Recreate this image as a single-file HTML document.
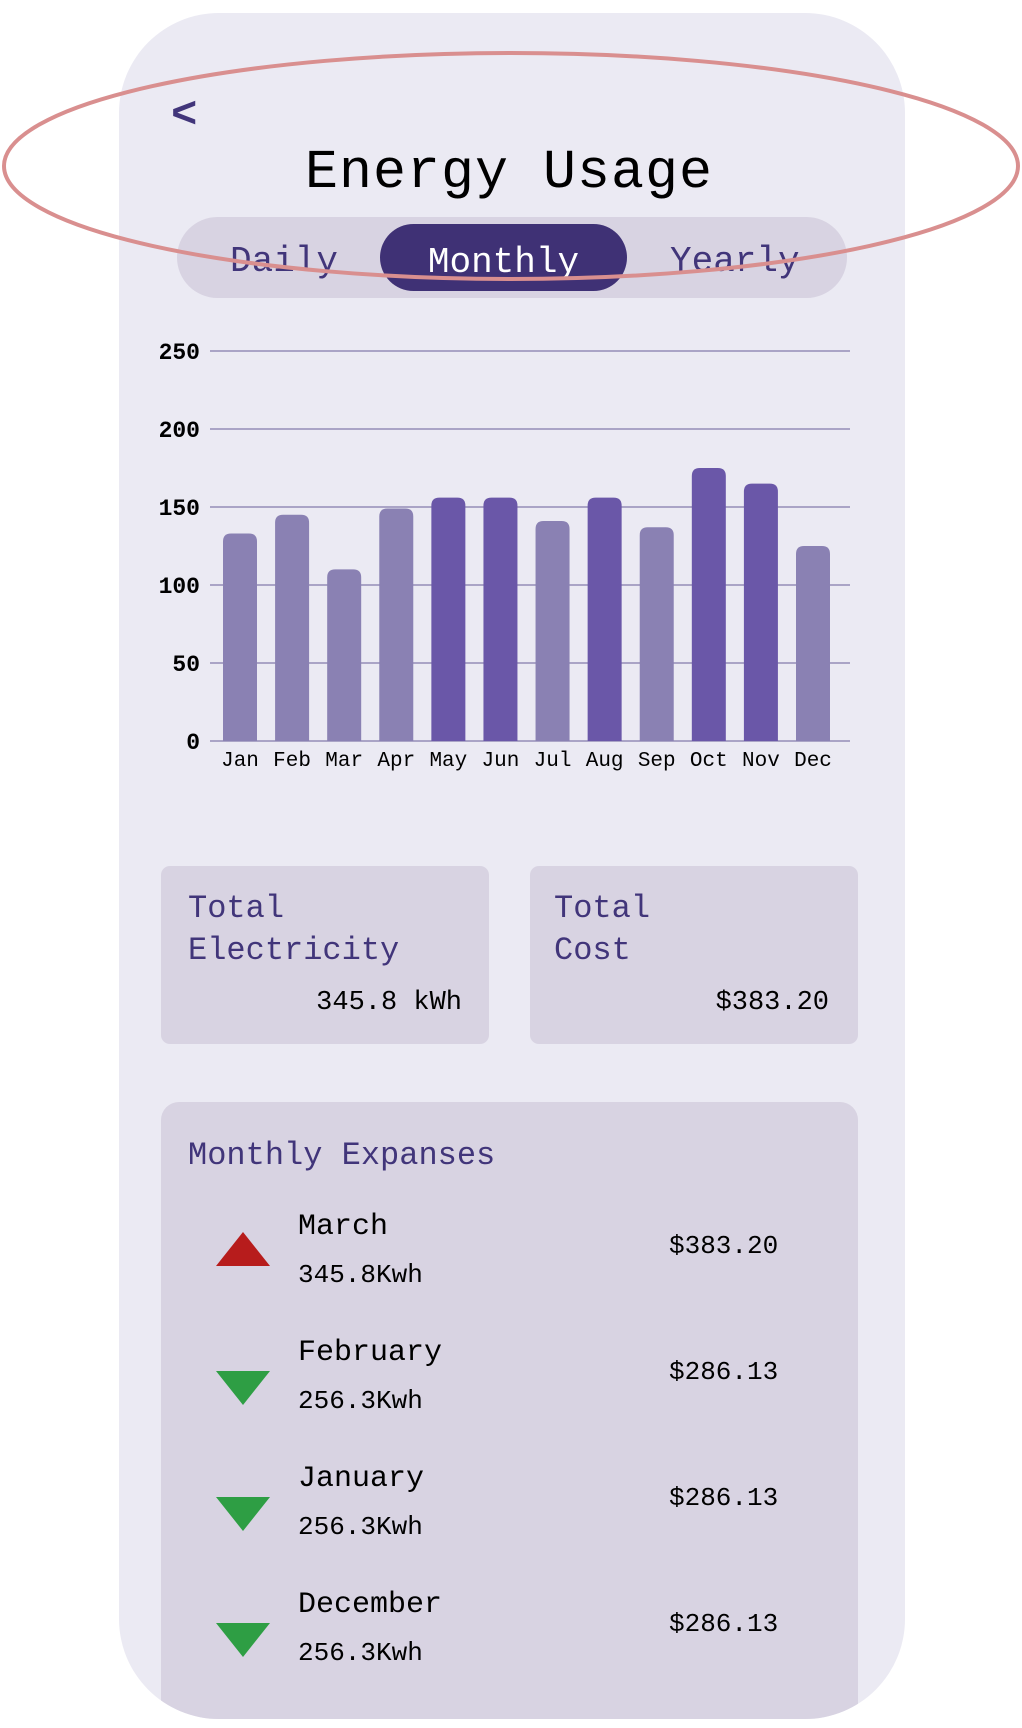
<!DOCTYPE html>
<html><head><meta charset="utf-8"><style>
body{margin:0;width:1022px;height:1728px;background:#fff;position:relative;overflow:hidden;font-family:"Liberation Mono",monospace}
#frame{position:absolute;left:119px;top:13px;width:786px;height:1706px;background:#ebeaf3;border-radius:100px;overflow:hidden}
.abs{position:absolute}
.card{position:absolute;background:#d8d3e2;border-radius:9px}
.lbl{color:#41357a;font-size:32px;line-height:42px}
</style></head><body>
<div id="frame">
  <div class="abs" style="left:52px;top:78px;font-size:44px;font-weight:bold;color:#41357a">&lt;</div>
  <div class="abs" style="left:0;width:780px;top:128px;text-align:center;font-size:55px;color:#000;letter-spacing:1px">Energy Usage</div>
  <div class="abs" style="left:58px;top:204px;width:670px;height:81px;border-radius:41px;background:#d8d3e2"></div>
  <div class="abs" style="left:111px;top:228px;font-size:36px;color:#41357a">Daily</div>
  <div class="abs" style="left:261px;top:211px;width:247px;height:67px;border-radius:34px;background:#3f3175;color:#fff;font-size:36px;text-align:center;line-height:78px">Monthly</div>
  <div class="abs" style="left:551px;top:228px;font-size:36px;color:#41357a">Yearly</div>
  <svg class="abs" style="left:0;top:0" width="786" height="800"><g id="chart" transform="translate(-119,-13)"></g></svg>

  <div class="card" style="left:42px;top:853px;width:328px;height:178px">
    <div class="abs lbl" style="left:27px;top:22px">Total<br>Electricity</div>
    <div class="abs" style="right:27px;top:122px;font-size:27px">345.8 kWh</div>
  </div>
  <div class="card" style="left:411px;top:853px;width:328px;height:178px">
    <div class="abs lbl" style="left:24px;top:22px">Total<br>Cost</div>
    <div class="abs" style="right:29px;top:122px;font-size:27px">$383.20</div>
  </div>
  <div class="card" style="left:42px;top:1089px;width:697px;height:700px;border-radius:18px">
    <div class="abs lbl" style="left:27px;top:33px">Monthly Expanses</div>
    <div id="rows"></div>
  </div>
</div>
<svg class="abs" style="left:0;top:0;position:absolute" width="1022" height="400"><ellipse cx="511" cy="166" rx="507" ry="113" fill="none" stroke="#d98f8f" stroke-width="4"/></svg>
<script>
const months=["Jan","Feb","Mar","Apr","May","Jun","Jul","Aug","Sep","Oct","Nov","Dec"];
const usage=[133,145,110,149,156,156,141,156,137,175,165,125];
const yTicks=[0,50,100,150,200,250];
const g=document.getElementById('chart');const NS='http://www.w3.org/2000/svg';
const x0=210,x1=850,yb=741,yt=351;
const y=v=>yb-(v/250)*(yb-yt);
const firstC=240,lastC=813;
const step=(lastC-firstC)/(months.length-1);
const xc=i=>firstC+step*i;
function mk(t,a){const e=document.createElementNS(NS,t);for(const k in a)e.setAttribute(k,a[k]);g.appendChild(e);return e;}
yTicks.forEach(v=>{
  const l=mk('line',{x1:x0,x2:x1,y1:y(v),y2:y(v),stroke:'#aaa4c6','stroke-width':2});
  
  
  const t=mk('text',{x:200,y:y(v)+8,'text-anchor':'end','font-size':23,'font-weight':'bold','font-family':'Liberation Mono'});
  t.textContent=v;
  
  
});
usage.forEach((v,i)=>{
  const w=34,r=8;
  const bx=xc(i)-w/2,by=y(v);
  const p=mk('path',{d:`M${bx},${yb}V${by+r}Q${bx},${by} ${bx+r},${by}H${bx+w-r}Q${bx+w},${by} ${bx+w},${by+r}V${yb}Z`,fill:v>=150?'#6a57a8':'#8a81b3'});
  
  
  const t=mk('text',{x:xc(i),y:766,'text-anchor':'middle','font-size':21,'font-family':'Liberation Mono'});
  t.textContent=months[i];
  
  
});
const rowNames=["March","February","January","December"];
const rowKwh=["345.8Kwh","256.3Kwh","256.3Kwh","256.3Kwh"];
const rowCost=["$383.20","$286.13","$286.13","$286.13"];
const rowUp=[true,false,false,false];
const rows=document.getElementById('rows');
rowNames.forEach((n,i)=>{
  const top=108+i*126;
  const d=document.createElement('div');
  
  
  d.style.cssText=`position:absolute;left:0;top:${top}px;width:697px;height:120px`;
  const tri=rowUp[i]?`<polygon points="27,0 54,34 0,34" fill="#b71c1c"/>`:`<polygon points="0,0 54,0 27,34" fill="#2e9e44"/>`;
  const ty=rowUp[i]?22:35;
  d.innerHTML=`<svg style="position:absolute;left:55px;top:${ty}px" width="56" height="36">${tri}</svg>
  <div style="position:absolute;left:137px;top:0;font-size:30px">${n}</div>
  <div style="position:absolute;left:137px;top:50px;font-size:26px">${rowKwh[i]}</div>
  <div style="position:absolute;left:508px;top:21px;font-size:26px">${rowCost[i]}</div>`;
  rows.appendChild(d);
});
</script>
</body></html>
